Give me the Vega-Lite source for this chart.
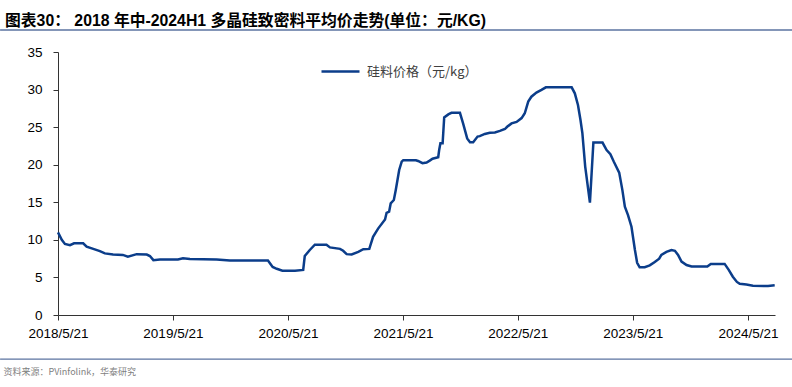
{
  "$schema": "https://vega.github.io/schema/vega-lite/v6.json",
  "width": 717,
  "height": 263,
  "autosize": {"type": "none"},
  "padding": {"left": 58, "top": 52, "right": 17, "bottom": 72},
  "background": "white",
  "config": {
    "view": {"stroke": null},
    "axisY": {
      "grid": false,
      "labelFlush": false,
      "labelOverlap": false,
      "labelBound": false,
      "tickSize": 5,
      "labelPadding": 11,
      "labelFont": "'Liberation Sans'",
      "labelFontSize": 13.5,
      "labelColor": "#000000",
      "domainColor": "#333333",
      "tickColor": "#333333",
      "tickCount": 8
    }
  },
  "title": {
    "text": "图表30： 2018 年中-2024H1 多晶硅致密料平均价走势(单位：元/KG)",
    "anchor": "start",
    "frame": "group",
    "dx": -53,
    "dy": 18,
    "offset": 5.4,
    "baseline": "alphabetic",
    "font": "'Liberation Sans', 'Noto Sans CJK SC'",
    "fontSize": 15.8,
    "fontWeight": "bold",
    "color": "#000000"
  },
  "data": {
    "values": [
      {"date": "2018-05-21", "price": 11.0},
      {"date": "2018-06-02", "price": 10.0},
      {"date": "2018-06-12", "price": 9.45},
      {"date": "2018-06-28", "price": 9.3},
      {"date": "2018-07-11", "price": 9.55},
      {"date": "2018-08-09", "price": 9.55},
      {"date": "2018-08-20", "price": 9.1},
      {"date": "2018-09-10", "price": 8.8},
      {"date": "2018-10-01", "price": 8.5},
      {"date": "2018-10-17", "price": 8.2},
      {"date": "2018-11-12", "price": 8.05},
      {"date": "2018-12-13", "price": 8.0},
      {"date": "2018-12-29", "price": 7.75},
      {"date": "2019-01-26", "price": 8.1},
      {"date": "2019-02-27", "price": 8.05},
      {"date": "2019-03-09", "price": 7.85},
      {"date": "2019-03-20", "price": 7.3},
      {"date": "2019-04-10", "price": 7.4},
      {"date": "2019-06-06", "price": 7.4},
      {"date": "2019-06-22", "price": 7.55},
      {"date": "2019-07-14", "price": 7.45},
      {"date": "2019-10-07", "price": 7.4},
      {"date": "2019-11-18", "price": 7.25},
      {"date": "2020-03-18", "price": 7.25},
      {"date": "2020-04-02", "price": 6.4},
      {"date": "2020-04-15", "price": 6.15},
      {"date": "2020-05-03", "price": 5.9},
      {"date": "2020-06-12", "price": 5.9},
      {"date": "2020-07-08", "price": 6.0},
      {"date": "2020-07-13", "price": 7.85},
      {"date": "2020-07-29", "price": 8.65},
      {"date": "2020-08-14", "price": 9.35},
      {"date": "2020-09-20", "price": 9.35},
      {"date": "2020-10-01", "price": 9.0},
      {"date": "2020-11-02", "price": 8.8},
      {"date": "2020-11-12", "price": 8.55},
      {"date": "2020-11-23", "price": 8.1},
      {"date": "2020-12-09", "price": 8.05},
      {"date": "2020-12-30", "price": 8.4},
      {"date": "2021-01-15", "price": 8.75},
      {"date": "2021-02-03", "price": 8.8},
      {"date": "2021-02-15", "price": 10.4},
      {"date": "2021-03-03", "price": 11.5},
      {"date": "2021-03-25", "price": 12.7},
      {"date": "2021-03-30", "price": 13.6},
      {"date": "2021-04-07", "price": 13.75},
      {"date": "2021-04-12", "price": 14.85},
      {"date": "2021-04-22", "price": 15.3},
      {"date": "2021-04-28", "price": 16.6},
      {"date": "2021-05-09", "price": 19.3},
      {"date": "2021-05-17", "price": 20.4},
      {"date": "2021-05-22", "price": 20.6},
      {"date": "2021-07-01", "price": 20.6},
      {"date": "2021-07-08", "price": 20.5},
      {"date": "2021-07-22", "price": 20.2},
      {"date": "2021-08-04", "price": 20.3},
      {"date": "2021-08-14", "price": 20.55},
      {"date": "2021-08-23", "price": 20.8},
      {"date": "2021-09-10", "price": 21.0},
      {"date": "2021-09-13", "price": 21.95},
      {"date": "2021-09-17", "price": 22.85},
      {"date": "2021-09-24", "price": 22.85},
      {"date": "2021-09-29", "price": 26.3},
      {"date": "2021-10-12", "price": 26.7},
      {"date": "2021-10-22", "price": 26.9},
      {"date": "2021-11-18", "price": 26.9},
      {"date": "2021-11-28", "price": 25.5},
      {"date": "2021-12-11", "price": 23.5},
      {"date": "2021-12-20", "price": 23.0},
      {"date": "2021-12-30", "price": 23.0},
      {"date": "2022-01-13", "price": 23.75},
      {"date": "2022-01-20", "price": 23.8},
      {"date": "2022-02-05", "price": 24.1},
      {"date": "2022-02-21", "price": 24.25},
      {"date": "2022-03-09", "price": 24.3},
      {"date": "2022-03-25", "price": 24.5},
      {"date": "2022-04-10", "price": 24.75},
      {"date": "2022-04-17", "price": 25.05},
      {"date": "2022-05-01", "price": 25.5},
      {"date": "2022-05-17", "price": 25.7},
      {"date": "2022-06-02", "price": 26.2},
      {"date": "2022-06-12", "price": 26.85},
      {"date": "2022-06-23", "price": 28.4},
      {"date": "2022-07-03", "price": 29.05},
      {"date": "2022-07-19", "price": 29.6},
      {"date": "2022-08-04", "price": 29.95},
      {"date": "2022-08-18", "price": 30.3},
      {"date": "2022-11-08", "price": 30.3},
      {"date": "2022-11-18", "price": 29.5},
      {"date": "2022-11-28", "price": 27.95},
      {"date": "2022-12-06", "price": 25.95},
      {"date": "2022-12-12", "price": 24.2},
      {"date": "2022-12-21", "price": 19.75},
      {"date": "2023-01-05", "price": 14.95},
      {"date": "2023-01-16", "price": 22.95},
      {"date": "2023-02-14", "price": 22.95},
      {"date": "2023-02-27", "price": 21.95},
      {"date": "2023-03-11", "price": 21.4},
      {"date": "2023-03-22", "price": 20.4},
      {"date": "2023-04-08", "price": 18.95},
      {"date": "2023-04-18", "price": 16.65},
      {"date": "2023-04-26", "price": 14.4},
      {"date": "2023-05-06", "price": 13.3},
      {"date": "2023-05-17", "price": 11.75},
      {"date": "2023-05-28", "price": 8.65},
      {"date": "2023-06-04", "price": 6.95},
      {"date": "2023-06-12", "price": 6.35},
      {"date": "2023-06-28", "price": 6.35},
      {"date": "2023-07-14", "price": 6.6},
      {"date": "2023-07-30", "price": 7.05},
      {"date": "2023-08-13", "price": 7.5},
      {"date": "2023-08-20", "price": 8.0},
      {"date": "2023-09-05", "price": 8.4},
      {"date": "2023-09-21", "price": 8.65},
      {"date": "2023-10-02", "price": 8.55},
      {"date": "2023-10-12", "price": 8.0},
      {"date": "2023-10-23", "price": 7.1},
      {"date": "2023-11-08", "price": 6.65},
      {"date": "2023-11-24", "price": 6.45},
      {"date": "2024-01-13", "price": 6.45},
      {"date": "2024-01-24", "price": 6.8},
      {"date": "2024-03-08", "price": 6.8},
      {"date": "2024-03-21", "price": 6.0},
      {"date": "2024-04-03", "price": 5.1},
      {"date": "2024-04-16", "price": 4.4},
      {"date": "2024-04-25", "price": 4.15},
      {"date": "2024-05-16", "price": 4.05},
      {"date": "2024-06-06", "price": 3.9},
      {"date": "2024-07-24", "price": 3.85},
      {"date": "2024-08-14", "price": 3.95}
    ]
  },
  "layer": [
    {
      "mark": {"type": "line", "strokeWidth": 2.5, "interpolate": "linear"},
      "encoding": {
        "x": {
          "field": "date",
          "type": "temporal",
          "scale": {
            "type": "utc",
            "domain": [
              {"year": 2018, "month": 5, "date": 21, "utc": true},
              {"year": 2024, "month": 8, "date": 15, "utc": true}
            ]
          },
          "axis": {
            "values": [
              {"year": 2018, "month": 5, "date": 21, "utc": true},
              {"year": 2019, "month": 5, "date": 21, "utc": true},
              {"year": 2020, "month": 5, "date": 21, "utc": true},
              {"year": 2021, "month": 5, "date": 21, "utc": true},
              {"year": 2022, "month": 5, "date": 21, "utc": true},
              {"year": 2023, "month": 5, "date": 21, "utc": true},
              {"year": 2024, "month": 5, "date": 21, "utc": true}
            ],
            "format": "%Y/%-m/%-d",
            "grid": false,
            "labelFlush": false,
            "labelOverlap": false,
            "labelBound": false,
            "tickSize": 5,
            "labelPadding": 6,
            "labelFont": "'Liberation Sans'",
            "labelFontSize": 13.5,
            "labelColor": "#000000",
            "domainColor": "#333333",
            "tickColor": "#333333",
            "domainWidth": 1,
            "title": "资料来源：PVinfolink，华泰研究",
            "titleX": -55,
            "titleY": 56.5,
            "titleAlign": "left",
            "titleBaseline": "middle",
            "titleFont": "'Liberation Sans Narrow', 'Noto Sans CJK SC'",
            "titleFontSize": 9,
            "titleFontWeight": "normal",
            "titleColor": "#7f7f7f"
          }
        },
        "y": {
          "field": "price",
          "type": "quantitative",
          "scale": {"domain": [0, 35], "nice": false, "zero": true},
          "axis": {"values": [0, 5, 10, 15, 20, 25, 30, 35], "title": null}
        },
        "color": {
          "datum": "硅料价格（元/kg）",
          "type": "nominal",
          "scale": {"range": ["#0b3d8a"]},
          "legend": {
            "orient": "none",
            "legendX": 262,
            "legendY": -1,
            "title": null,
            "padding": 0,
            "symbolType": "stroke",
            "symbolSize": 1444,
            "symbolStrokeWidth": 2.5,
            "labelOffset": 6,
            "labelFont": "'Noto Sans CJK SC'",
            "labelFontSize": 13,
            "labelColor": "#404040"
          }
        }
      }
    },
    {
      "data": {"values": [{}]},
      "mark": {"type": "rule", "color": "#5b73a0", "strokeWidth": 1.3, "clip": false},
      "encoding": {
        "x": {"datum": {"year": 2017, "month": 11, "date": 18, "utc": true}, "type": "temporal",
              "scale": {"type": "utc", "domain": [{"year": 2018, "month": 5, "date": 21, "utc": true}, {"year": 2024, "month": 8, "date": 15, "utc": true}]}},
        "x2": {"datum": {"year": 2024, "month": 10, "date": 8, "utc": true}},
        "y": {"datum": 37.93, "type": "quantitative", "scale": {"domain": [0, 35], "nice": false, "zero": true},
              "axis": {"values": [0, 5, 10, 15, 20, 25, 30, 35], "title": null}}
      }
    },
    {
      "data": {"values": [{}]},
      "mark": {"type": "rule", "color": "#5b73a0", "strokeWidth": 1.3, "clip": false},
      "encoding": {
        "x": {"datum": {"year": 2017, "month": 11, "date": 18, "utc": true}, "type": "temporal",
              "scale": {"type": "utc", "domain": [{"year": 2018, "month": 5, "date": 21, "utc": true}, {"year": 2024, "month": 8, "date": 15, "utc": true}]}},
        "x2": {"datum": {"year": 2024, "month": 10, "date": 8, "utc": true}},
        "y": {"datum": -5.86, "type": "quantitative", "scale": {"domain": [0, 35], "nice": false, "zero": true},
              "axis": {"values": [0, 5, 10, 15, 20, 25, 30, 35], "title": null}}
      }
    }
  ]
}
